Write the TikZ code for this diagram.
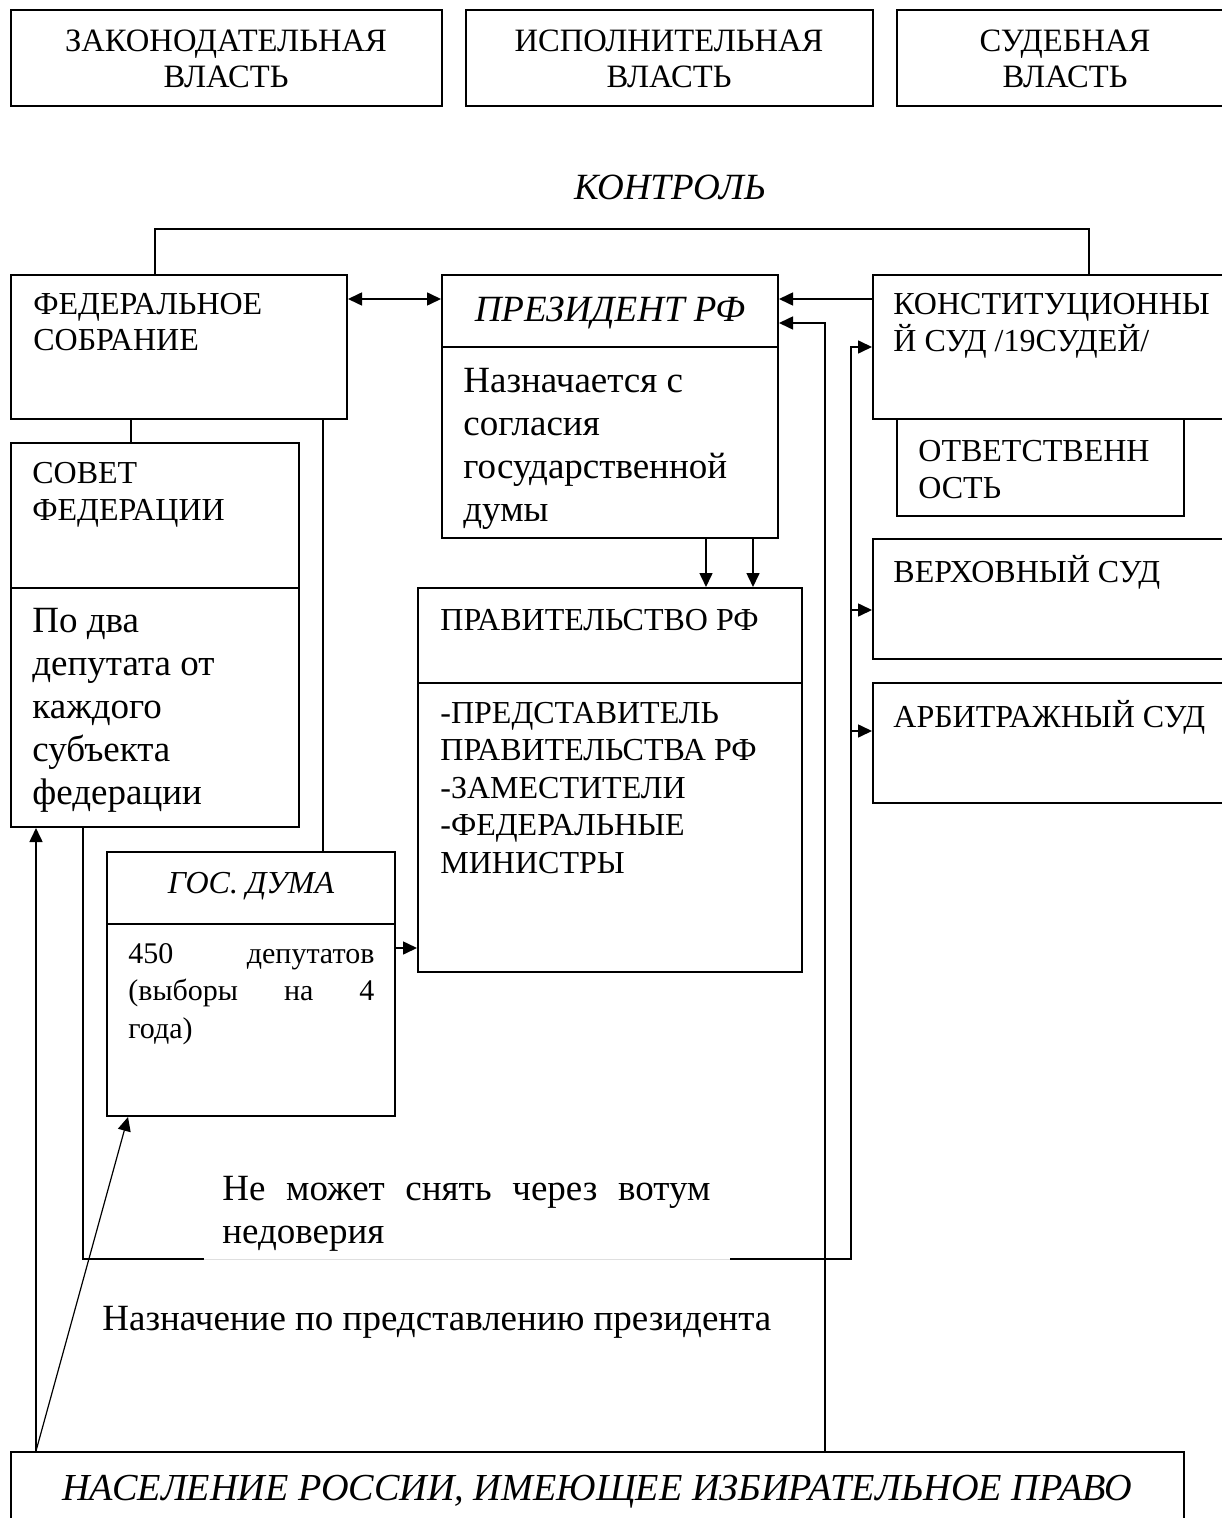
\documentclass[tikz,border=0pt]{standalone}
\usepackage{fontspec}
\setmainfont{Liberation Serif}
\usetikzlibrary{arrows.meta,fit}

\begin{document}
\begin{tikzpicture}[x=0.5pt,y=-0.5pt,
   box/.style={draw, line width=1pt, inner sep=0pt, fit={#1}},
   capt/.style={font={\fontsize{16}{18.5}\selectfont}, align=left, anchor=base west, inner sep=0pt},
   head/.style={font={\fontsize{16.3}{18}\selectfont}, align=center, anchor=base, inner sep=0pt},
   big/.style={font={\fontsize{18.5}{21.5}\selectfont}, align=left, anchor=base west, inner sep=0pt},
   small/.style={font={\fontsize{15}{18.75}\selectfont}, align=left, anchor=base west, inner sep=0pt},
   itx/.style={font={\fontsize{18.5}{21.5}\selectfont\itshape}, anchor=base, inner sep=0pt},
   ln/.style={line width=0.8pt},
   arr/.style={line width=0.8pt, -{Triangle[length=7pt,width=6.5pt]}},
   arrb/.style={line width=0.8pt, {Triangle[length=7pt,width=6.5pt]}-{Triangle[length=7pt,width=6.5pt]}}]
   \useasboundingbox (0,0) rectangle (1221,1518);

   % three branches
   \node[box={(11,10) (442,106)}] (zak) {};
   \node[box={(466,10) (873,106)}] (isp) {};
   \node[box={(897,10) (1233,106)}] (sud) {};
   \node[head] (zaktxt) at (226,88) {ЗАКОНОДАТЕЛЬНАЯ\\ВЛАСТЬ};
   \node[head] (isptxt) at (669,88) {ИСПОЛНИТЕЛЬНАЯ\\ВЛАСТЬ};
   \node[head] (sudtxt) at (1065,88) {СУДЕБНАЯ\\ВЛАСТЬ};
   \node[itx] (kontrol) at (670,200) {КОНТРОЛЬ};

   % boxes
   \node[box={(11,275) (347,419)}] (fs) {};
   \node[box={(442,275) (778,347)}] (prest) {};
   \node[box={(442,347) (778,538)}] (presb) {};
   \node[box={(873,275) (1240,419)}] (ks) {};
   \node[box={(897,419) (1184,516)}] (otv) {};
   \node[box={(873,539) (1240,659)}] (vs) {};
   \node[box={(873,683) (1240,803)}] (as) {};
   \node[box={(11,443) (299,588)}] (sft) {};
   \node[box={(11,588) (299,827)}] (sfb) {};
   \node[box={(418,588) (802,683)}] (govt) {};
   \node[box={(418,683) (802,972)}] (govb) {};
   \node[box={(107,852) (395,924)}] (gdt) {};
   \node[box={(107,924) (395,1116)}] (gdb) {};
   \node[box={(11,1452) (1184,1540)}] (pop) {};

   % connectors
   \draw[ln] (fs.north -| 155,0) |- (1089,229) -- (ks.north -| 1089,0);
   \draw[arrb] (fs.east |- 0,299) -- (prest.west |- 0,299);
   \draw[arr] (ks.west |- 0,299) -- (prest.east |- 0,299);
   \draw[arr] (pop.north -| 825,0) |- (prest.east |- 0,323);
   \draw[arr] (sfb.south -| 83,0) |- (851,1259) |- (ks.west |- 0,347);
   \draw[arr] (851,610) -- (vs.west |- 0,610);
   \draw[arr] (851,731) -- (as.west |- 0,731);
   \draw[ln] (fs.south -| 131,0) -- (sft.north -| 131,0);
   \draw[ln] (fs.south -| 323,0) -- (gdt.north -| 323,0);
   \draw[arr] (presb.south -| 706,0) -- (govt.north -| 706,0);
   \draw[arr] (presb.south -| 753,0) -- (govt.north -| 753,0);
   \draw[arr] (gdb.east |- 0,948) -- (govb.west |- 0,948);
   \draw[arr] (pop.north -| 36,0) -- (sfb.south -| 36,0);
   \draw[arr, line width=0.6pt] (pop.north -| 36,0) -- (gdb.south -| 128,0);

   % texts (multi-line ones sit on their last baseline)
   \node[capt, font={\fontsize{16}{18}\selectfont}] (fstxt) at (33,351) {ФЕДЕРАЛЬНОЕ\\СОБРАНИЕ};
   \node[itx] (prestxt) at (610,322) {ПРЕЗИДЕНТ РФ};
   \node[big] (presbtxt) at (463,521) {Назначается с\\согласия\\государственной\\думы};
   \node[capt] (kstxt) at (893,352) {КОНСТИТУЦИОННЫ\\Й СУД /19СУДЕЙ/};
   \node[capt] (otvtxt) at (918,498) {ОТВЕТСТВЕНН\\ОСТЬ};
   \node[capt] (vstxt) at (893,582) {ВЕРХОВНЫЙ СУД};
   \node[capt] (astxt) at (893,727) {АРБИТРАЖНЫЙ СУД};
   \node[capt] (sfttxt) at (32,520) {СОВЕТ\\ФЕДЕРАЦИИ};
   \node[big] (sfbtxt) at (32,804) {По два\\депутата от\\каждого\\субъекта\\федерации};
   \node[capt] (govttxt) at (440,630) {ПРАВИТЕЛЬСТВО РФ};
   \node[capt, font={\fontsize{16}{18.75}\selectfont}] (govbtxt) at (440,873) {-ПРЕДСТАВИТЕЛЬ\\ПРАВИТЕЛЬСТВА РФ\\-ЗАМЕСТИТЕЛИ\\-ФЕДЕРАЛЬНЫЕ\\МИНИСТРЫ};
   \node[itx, font={\fontsize{16}{18}\selectfont\itshape}] (gdttxt) at (251,893) {ГОС. ДУМА};
   \node[small, text width=123pt] (gdbtxt) at (128,963) {450\hfill депутатов\\(выборы\hfill на\hfill 4\\года)};

   \node[fill=white, inner sep=0pt, fit={(204,1160) (730,1259)}] (nodov) {};
   \draw[gray!25, line width=0.5pt] (nodov.south west) -- (nodov.south east);
   \node[big, text width=244pt] (nodovtxt) at (222,1200) {Не\hfill может\hfill снять\hfill через\hfill вотум\\недоверия};
   \node[big] (naztxt) at (102,1330) {Назначение по представлению президента};
   \node[itx, font={\fontsize{19.1}{21.5}\selectfont\itshape}] (poptxt) at (597,1500) {НАСЕЛЕНИЕ РОССИИ, ИМЕЮЩЕЕ ИЗБИРАТЕЛЬНОЕ ПРАВО};
\end{tikzpicture}
\end{document}
